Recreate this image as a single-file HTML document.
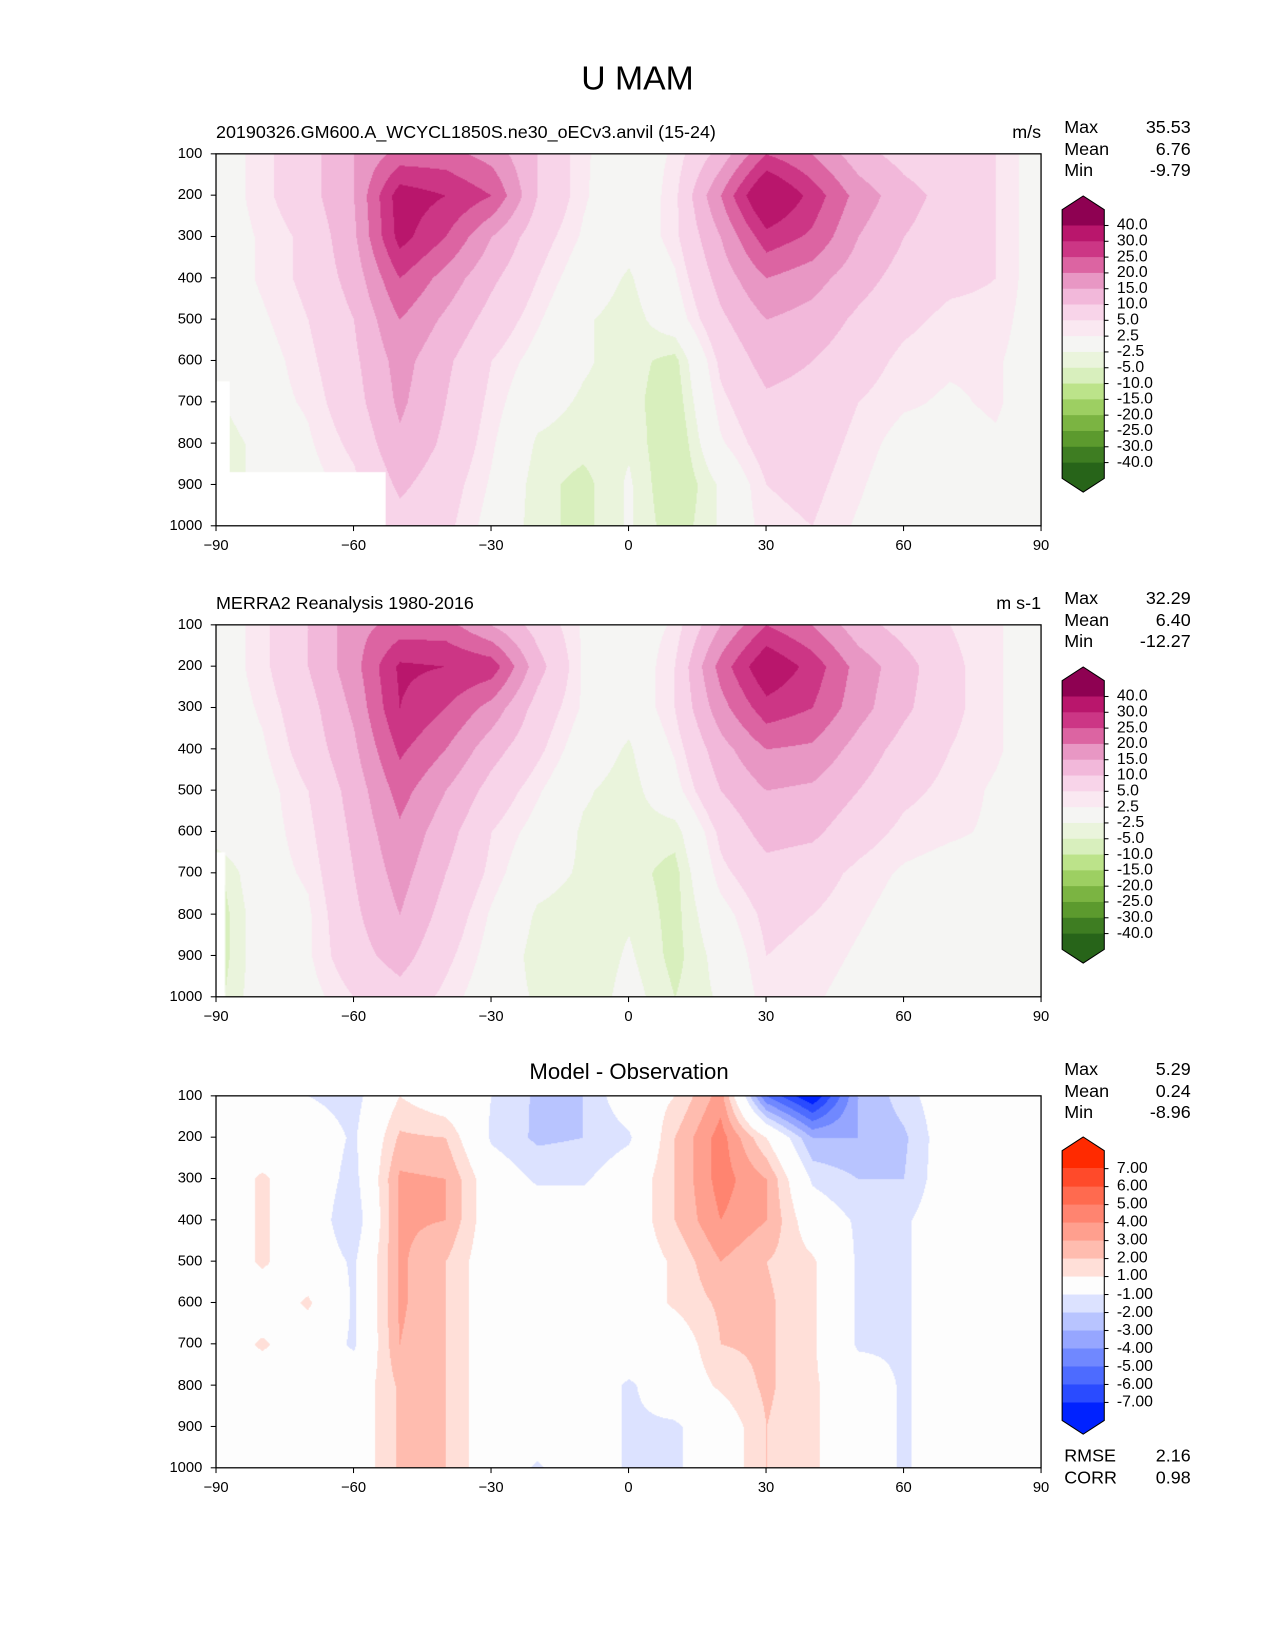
<!DOCTYPE html>
<html><head><meta charset="utf-8">
<style>
html,body{margin:0;background:#fff;overflow:hidden;width:1275px;height:1650px;}
#root{position:relative;width:1210px;height:1566px;background:#fff;font-family:"Liberation Sans","DejaVu Sans",sans-serif;color:#000;transform:scale(1.0537);transform-origin:0 0;}
.t{position:absolute;white-space:nowrap;}
canvas{position:absolute;}
</style></head>
<body>
<div id="root">
<div class="t" style="left:0;width:1210px;text-align:center;top:56px;font-size:32px;">U MAM</div>
</div>
<script>
// ---- data ----
const lats=[-90,-80,-70,-60,-50,-40,-30,-20,-10,0,10,20,30,40,50,60,70,80,90];
const pressures=[100,200,300,400,500,600,700,800,900,1000];
const fieldLevels=[-40,-30,-25,-20,-15,-10,-5,-2.5,2.5,5,10,15,20,25,30,40];
const fieldColors=["#276419","#3e7d22","#5c9a2e","#7bb442","#9dcf62","#bce38a","#d8efbd","#eaf4dc","#f5f5f3","#fae8f1","#f8d4e9","#f2b8da","#e897c4","#dc64a2","#cc3685","#b9166c","#8e0152"];
const fieldTicks=["40.0","30.0","25.0","20.0","15.0","10.0","5.0","2.5","-2.5","-5.0","-10.0","-15.0","-20.0","-25.0","-30.0","-40.0"];
const diffLevels=[-7,-6,-5,-4,-3,-2,-1,1,2,3,4,5,6,7];
const diffColors=["#0022ff","#2a4bff","#4d6bff","#7088ff","#96a6ff","#b8c4ff","#dce2ff","#fdfdfd","#ffdfd8","#ffbcaf","#ff9f8e","#ff8470","#ff6a4f","#ff4a2a","#ff2a00"];
const diffTicks=["7.00","6.00","5.00","4.00","3.00","2.00","1.00","-1.00","-2.00","-3.00","-4.00","-5.00","-6.00","-7.00"];
const xTicks=[-90,-60,-30,0,30,60,90];
const yTicks=[100,200,300,400,500,600,700,800,900,1000];
const modelU=[
[0,4,8,15,22,22,18,10,3,0,3,12,25,20,12,8,6,5,0],
[0,4,8,15,33,30,25,10,3,-1,4,20,38,28,18,12,8,5,0],
[0,3,6,14,32,25,15,7,2,-1,4,15,28,24,15,10,7,5,0],
[0,3,6,12,25,18,11,5,0,-3,2,12,20,17,12,8,6,5,0],
[0,2,5,10,20,14,8,3,-2,-4,0,9,15,13,9,6,4,4,0],
[0,1,4,9,17,11,5,1,-2,-4,-6,6,12,10,7,4,3,3,0],
[-3,1,3,8,16,10,4,-1,-3,-4,-7,4,9,8,5,3,2,3,0],
[-5,-1,2,6,14,9,3,-3,-4,-3,-8,2,7,7,4,1,1,2,0],
[-5,-1,1,4,11,7,2,-4,-6,-2,-8,-2,5,6,3,0,0,1,0],
[-5,-1,1,3,8,6,1,-4,-6,-2,-7,-2,4,5,2,0,0,1,0]];
const obsU=[
[0,4,10,18,22,22,15,8,2,0,3,15,25,20,12,8,5,3,0],
[0,4,10,18,31,30,28,12,2,-1,5,22,35,28,18,12,6,3,0],
[0,3,8,16,30,25,18,8,2,-1,5,18,28,25,17,11,6,3,0],
[0,2,7,14,26,20,12,6,0,-3,3,13,20,19,13,8,5,3,0],
[0,1,5,12,22,15,8,3,-2,-4,1,10,15,14,10,6,4,2,0],
[0,1,4,11,19,12,5,1,-3,-4,-4,6,12,11,7,4,3,2,0],
[-6,1,3,10,17,10,4,-1,-3,-4,-6,4,8,7,4,2,1,1,0],
[-7,0,2,9,15,8,2,-3,-4,-3,-6,1,6,5,3,1,0,1,0],
[-7,0,2,8,12,6,1,-4,-5,-2,-6,-1,5,4,2,0,0,0,0],
[-6,0,1,5,8,4,0,-3,-5,-1,-5,-2,4,3,1,0,0,0,0]];
const diffU=[
[0,0,-1,-1.5,1,0,-1,-2.2,-2,0,1,3.5,-5,-8,-3,-1.5,0,0,0],
[0,0,0,-1.2,2.2,2,-1.2,-2.2,-2,-1.2,2,4.5,1,-3,-3,-2.2,0,0,0],
[0,1.2,0,-1.5,3.2,3,0,-1.2,-1.2,0,2,4.5,3,-1.2,-2,-2,0,0,0],
[0,1.2,0,-2,3.2,3,0,0,0,0,2,4,3,0,-1.2,-1.2,0,0,0],
[0,1.2,0,-1.2,3.2,2,0,0,0,0,1.2,3,2,1.2,-1.2,-1.2,0,0,0],
[0,0,1.2,-1.2,3.2,2,0,0,0,0,1.2,2.2,2.2,1.2,-1.2,-1.2,0,0,0],
[0,1.2,0,-1.2,3,2,0,0,0,0,0,2,2.2,1.2,-1.2,-1.2,0,0,0],
[0,0,0,0,2.2,2,0,0,0,-1.2,0,1.2,2.2,1.2,0,-1.2,0,0,0],
[0,0,0,0,2.2,2,0,0,0,-1.2,-1.2,0,2,1.2,0,-1.2,0,0,0],
[0,0,0,0,2.2,2,0,-1.2,0,-1.2,-1.2,0,2,1.2,0,-1.2,0,0,0]];
const statLabels=["Max","Mean","Min"];
const modelStats=["35.53","6.76","-9.79"];
const obsStats=["32.29","6.40","-12.27"];
const diffStats=["5.29","0.24","-8.96"];

// ---- layout ----
const root=document.getElementById('root');
const AX_L=205, AX_R=988, AX_W=AX_R-AX_L, AX_H=353;
function xScale(lat){return AX_L+(lat+90)/180*AX_W;}
function yScale(p,top){return top+(p-100)/900*AX_H;}
function txt(name,s,x,y,size,align,extra){
  const d=document.createElement('div');
  d.className='t';
  
  
  d.textContent=s;
  d.style.fontSize=size+'px';
  d.style.top=y+'px';
  if(align==='right'){d.style.right=(1210-x)+'px';}
  else if(align==='center'){d.style.left=(x-200)+'px';d.style.width='400px';d.style.textAlign='center';}
  else d.style.left=x+'px';
  if(extra)d.style.cssText+=extra;
  root.appendChild(d);return d;
}
function sample(grid,lat,p){
  let fx=(lat+90)/10, fy=(p-100)/100;
  fx=Math.max(0,Math.min(18,fx)); fy=Math.max(0,Math.min(9,fy));
  const i0=Math.min(17,Math.floor(fx)), j0=Math.min(8,Math.floor(fy));
  const tx=fx-i0, ty=fy-j0;
  const a=grid[j0][i0],b=grid[j0][i0+1],c=grid[j0+1][i0],d=grid[j0+1][i0+1];
  return a*(1-tx)*(1-ty)+b*tx*(1-ty)+c*(1-tx)*ty+d*tx*ty;
}
function hex(h){return [parseInt(h.substr(1,2),16),parseInt(h.substr(3,2),16),parseInt(h.substr(5,2),16)];}
function drawField(name,grid,top,levels,colors,masks){
  const cv=document.createElement('canvas');
  
  
  cv.width=AX_W;cv.height=AX_H;
  cv.style.left=AX_L+'px';cv.style.top=top+'px';
  const ctx=cv.getContext('2d');
  const img=ctx.createImageData(AX_W,AX_H);
  const rgb=colors.map(hex);
  for(let y=0;y<AX_H;y++){
    const p=100+y/AX_H*900;
    for(let x=0;x<AX_W;x++){
      const lat=-90+x/AX_W*180;
      const v=sample(grid,lat,p);
      let k=0;while(k<levels.length&&v>=levels[k])k++;
      const c=rgb[k],o=(y*AX_W+x)*4;
      img.data[o]=c[0];img.data[o+1]=c[1];img.data[o+2]=c[2];img.data[o+3]=255;
    }
  }
  ctx.putImageData(img,0,0);
  ctx.fillStyle='#fff';
  (masks||[]).forEach(m=>{
    const x0=(m[0]+90)/180*AX_W,x1=(m[1]+90)/180*AX_W,y0=(m[2]-100)/900*AX_H,y1=(m[3]-100)/900*AX_H;
    ctx.fillRect(x0,y0,x1-x0,y1-y0);
  });
  root.appendChild(cv);
}
function drawAxes(prefix,top){
  const ns='http://www.w3.org/2000/svg';
  const svg=document.createElementNS(ns,'svg');
  
  
  svg.setAttribute('width','1210');svg.setAttribute('height','1566');
  svg.style.cssText='position:absolute;left:0;top:0;pointer-events:none;';
  const r=document.createElementNS(ns,'rect');
  
  
  r.setAttribute('x',AX_L);r.setAttribute('y',top);r.setAttribute('width',AX_W);r.setAttribute('height',AX_H);
  r.setAttribute('fill','none');r.setAttribute('stroke','#000');r.setAttribute('stroke-width','1.2');
  svg.appendChild(r);
  xTicks.forEach(v=>{
    const x=xScale(v);
    const l=document.createElementNS(ns,'line');
    
    
    l.setAttribute('x1',x);l.setAttribute('x2',x);l.setAttribute('y1',top+AX_H);l.setAttribute('y2',top+AX_H+5);
    l.setAttribute('stroke','#000');svg.appendChild(l);
    txt(prefix+'-x-tick-label',v<0?'\u2212'+(-v):String(v),x,top+AX_H+10,14,'center');
  });
  yTicks.forEach(v=>{
    const y=yScale(v,top);
    const l=document.createElementNS(ns,'line');
    
    
    l.setAttribute('x1',AX_L-5);l.setAttribute('x2',AX_L);l.setAttribute('y1',y);l.setAttribute('y2',y);
    l.setAttribute('stroke','#000');svg.appendChild(l);
    txt(prefix+'-y-tick-label',String(v),192,y-9,14,'right');
  });
  root.appendChild(svg);
}
function drawColorbar(prefix,topBox,ticks,colors,step){
  const ns='http://www.w3.org/2000/svg';
  const svg=document.createElementNS(ns,'svg');
  
  
  svg.setAttribute('width','1210');svg.setAttribute('height','1566');
  svg.style.cssText='position:absolute;left:0;top:0;pointer-events:none;';
  const x0=1008,x1=1048,n=ticks.length;
  const firstY=topBox+step, lastY=firstY+(n-1)*step;
  const hi=colors.length-1;
  let poly=document.createElementNS(ns,'polygon');
  poly.setAttribute('points',`${x0},${firstY} ${x0},${topBox} ${(x0+x1)/2},${topBox-13} ${x1},${topBox} ${x1},${firstY}`);
  poly.setAttribute('fill',colors[hi]);svg.appendChild(poly);
  for(let i=0;i<n-1;i++){
    const rc=document.createElementNS(ns,'rect');
    rc.setAttribute('x',x0);rc.setAttribute('y',firstY+i*step);rc.setAttribute('width',x1-x0);rc.setAttribute('height',step+0.5);
    rc.setAttribute('fill',colors[hi-1-i]);svg.appendChild(rc);
  }
  poly=document.createElementNS(ns,'polygon');
  poly.setAttribute('points',`${x0},${lastY} ${x0},${lastY+step} ${(x0+x1)/2},${lastY+step+13} ${x1},${lastY+step} ${x1},${lastY}`);
  poly.setAttribute('fill',colors[0]);svg.appendChild(poly);
  const out=document.createElementNS(ns,'polygon');
  out.setAttribute('points',`${x0},${topBox} ${(x0+x1)/2},${topBox-13} ${x1},${topBox} ${x1},${lastY+step} ${(x0+x1)/2},${lastY+step+13} ${x0},${lastY+step}`);
  out.setAttribute('fill','none');out.setAttribute('stroke','#000');out.setAttribute('stroke-width','1');
  svg.appendChild(out);
  ticks.forEach((t,i)=>{
    const y=firstY+i*step;
    const l=document.createElementNS(ns,'line');
    l.setAttribute('x1',x1);l.setAttribute('x2',x1+4);l.setAttribute('y1',y);l.setAttribute('y2',y);
    l.setAttribute('stroke','#000');svg.appendChild(l);
    txt(prefix+'-colorbar-label',t,1060,y-9,15,'left','line-height:17px;');
  });
  root.appendChild(svg);
}
function drawStats(prefix,top,vals){
  statLabels.forEach((s,i)=>{
    txt(prefix+'-stat-label',s,1010,top+i*20.5,17,'left');
    txt(prefix+'-stat-value',vals[i],1130,top+i*20.5,17,'right');
  });
}

const T1=146,T2=593,T3=1040;
drawField('model-contour',modelU,T1,fieldLevels,fieldColors,[[-90,-53,870,1000],[-90,-87,650,1000]]);
drawAxes('model',T1);
txt('model-title','20190326.GM600.A_WCYCL1850S.ne30_oECv3.anvil (15-24)',205,116,17,'left');
txt('model-units','m/s',988,116,17,'right');
drawStats('model',111,modelStats);
drawColorbar('model',199,fieldTicks,fieldColors,15);

drawField('obs-contour',obsU,T2,fieldLevels,fieldColors,[[-90,-88,650,1000]]);
drawAxes('obs',T2);
txt('obs-title','MERRA2 Reanalysis 1980-2016',205,563,17,'left');
txt('obs-units','m s-1',988,563,17,'right');
drawStats('obs',558,obsStats);
drawColorbar('obs',646,fieldTicks,fieldColors,15);

drawField('diff-contour',diffU,T3,diffLevels,diffColors,[]);
drawAxes('diff',T3);
txt('diff-title','Model - Observation',597,1006,21,'center');
drawStats('diff',1005,diffStats);
drawColorbar('diff',1092,diffTicks,diffColors,17.07);
txt('rmse-label','RMSE',1010,1372,17,'left');
txt('rmse-value','2.16',1130,1372,17,'right');
txt('corr-label','CORR',1010,1393,17,'left');
txt('corr-value','0.98',1130,1393,17,'right');
</script>
</body></html>
